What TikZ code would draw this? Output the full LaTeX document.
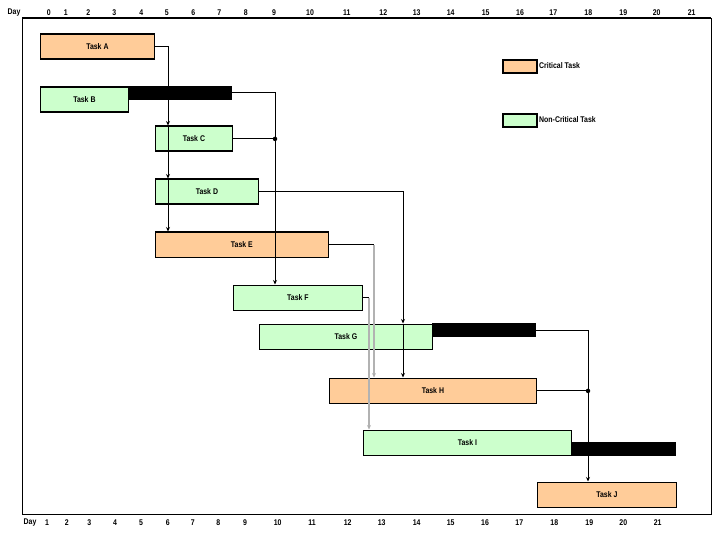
\documentclass[tikz,border=0pt]{standalone}
\usepackage{fontspec}
\setmainfont{Liberation Sans}[FakeStretch=0.84]
\usetikzlibrary{arrows.meta}
\definecolor{critfill}{HTML}{FFCC99}
\definecolor{noncritfill}{HTML}{CCFFCC}
\begin{document}
\begin{tikzpicture}[x=1bp,y=-1bp,
  lbl/.style={font=\fontsize{8.3}{9}\bfseries\selectfont, inner sep=0},
  taskbox/.style={draw=black, line width=1.8bp, minimum height=25bp, inner sep=0, anchor=north west, font=\fontsize{8.3}{9}\bfseries\selectfont},
  crit/.style={taskbox, fill=critfill},
  noncrit/.style={taskbox, fill=noncritfill},
  slack/.style={fill=black, inner sep=0, minimum height=13.5bp, anchor=north west},
  conn/.style={draw=black, line width=0.9bp},
  arr/.style={conn, -{Stealth[length=4.5bp,width=4bp]}},
  grayarr/.style={draw=black!30, line width=1.3bp, -{Stealth[length=4.5bp,width=4bp,fill=black!70]}},
  junction/.style={circle, fill=black, inner sep=0, minimum size=4.5bp}
]
\useasboundingbox (0,0) rectangle (720,540);
% frame
\draw[line width=0.9bp] (22,18) rectangle (711,514);
\draw[line width=2bp] (22,18) -- (711,18);
% axis labels
\node[lbl] (dtop) at (14,13) {Day};
\foreach \n/\x in {0/48.7,1/65.7,2/88.3,3/114.3,4/141.3,5/166.7,6/193.3,7/219.3,8/245.7,9/274,10/310,11/346.7,12/383.3,13/416.7,14/450.7,15/485.7,16/520,17/553.3,18/588.3,19/623.3,20/656.7,21/691.7}
  \node[lbl] (t\n) at (\x,13) {\n};
\node[lbl] (dbot) at (30,523) {Day};
\foreach \n/\x in {1/47,2/66.7,3/89.3,4/115,5/141,6/167.7,7/192.7,8/218.3,9/245,10/277.7,11/312,12/347.7,13/381.7,14/416.7,15/450.7,16/485,17/519.3,18/554.3,19/589.3,20/623.3,21/657.7}
  \node[lbl] (b\n) at (\x,523) {\n};
% legend
\node[crit, minimum width=34bp, minimum height=13bp] (lc) at (502,59.5) {};
\node[lbl, anchor=west] (lct) at (539,66) {Critical Task};
\node[noncrit, minimum width=34bp, minimum height=12.5bp] (ln) at (502,113.5) {};
\node[lbl, anchor=west] (lnt) at (539,120) {Non-Critical Task};
% slack bars
\node[slack, minimum width=104bp] (Bs) at (128,86) {};
\node[slack, minimum width=104bp] (Gs) at (432,323) {};
\node[slack, minimum width=105bp, minimum height=14bp] (Is) at (571,442) {};
% tasks
\node[crit, minimum width=114bp] (A) at (39.5,33.5) {Task A};
\node[noncrit, minimum width=88bp] (B) at (39.5,86.5) {Task B};
\node[noncrit, minimum width=77bp] (C) at (154.5,125.5) {Task C};
\node[noncrit, minimum width=103bp] (D) at (154.5,178.5) {Task D};
\node[crit, minimum width=173bp] (E) at (154.5,231.5) {Task E};
\node[noncrit, minimum width=129bp] (F) at (232.5,284.5) {Task F};
\node[noncrit, minimum width=173bp] (G) at (258.5,323.5) {Task G};
\node[crit, minimum width=207bp] (H) at (328.5,377.5) {Task H};
\node[noncrit, minimum width=208bp] (I) at (362.5,429.5) {Task I};
\node[crit, minimum width=139bp] (J) at (536.5,481.5) {Task J};
% routing columns
\coordinate (cA) at (168,0);
\coordinate (cB) at (275,0);
\coordinate (cD) at (403,0);
\coordinate (cE) at (374,0);
\coordinate (cF) at (369,0);
\coordinate (cG) at (588,0);
% connectors
\draw[arr] (A.east) -| (cA |- C.north);
\draw[arr] (cA |- C.north) -- (cA |- D.north);
\draw[arr] (cA |- D.north) -- (cA |- E.north);
\draw[arr] (Bs.east) -| (cB |- F.north);
\draw[conn] (C.east) -- (cB |- C.east) node[junction] (jc) {};
\draw[arr] (D.east) -| (cD |- G.north);
\draw[arr] (cD |- G.north) -- (cD |- H.north);
\draw[conn] (E.east) -- (cE |- E.east);
\draw[grayarr] (cE |- E.east) -- (cE |- H.north);
\draw[conn] (F.east) -- (cF |- F.east);
\draw[grayarr] (cF |- F.east) -- (cF |- I.north);
\draw[arr] (Gs.east) -| (cG |- J.north);
\draw[conn] (H.east) -- (cG |- H.east) node[junction] (jh) {};
\end{tikzpicture}
\end{document}
